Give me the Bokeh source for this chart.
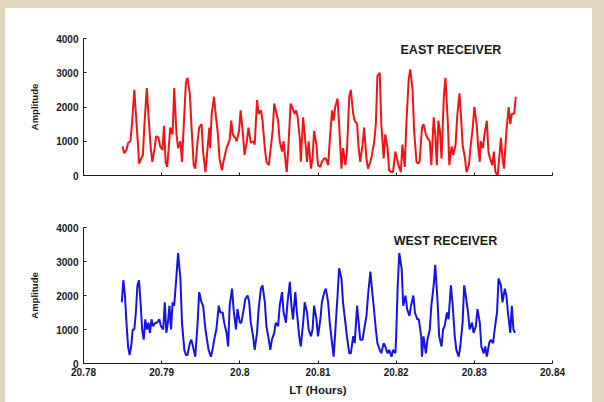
from bokeh.plotting import figure
from bokeh.layouts import column
from bokeh.models import Range1d, FixedTicker, Label, ColumnDataSource
from bokeh.embed import file_html
from bokeh.resources import INLINE

# ---------------- data ----------------
x_ticks = [20.78, 20.79, 20.8, 20.81, 20.82, 20.83, 20.84]
x_tick_labels = ["20.78", "20.79", "20.8", "20.81", "20.82", "20.83", "20.84"]
y_ticks = [0, 1000, 2000, 3000, 4000]

east_t = [
    20.7850, 20.7852, 20.7855, 20.7857, 20.7860, 20.7862, 20.7865, 20.7867, 20.7870, 20.7871,
    20.7874, 20.7876, 20.7878, 20.7881, 20.7883, 20.7886, 20.7888, 20.7891, 20.7893, 20.7896,
    20.7898, 20.7901, 20.7903, 20.7905, 20.7907, 20.7909, 20.7911, 20.7914, 20.7916, 20.7919,
    20.7921, 20.7924, 20.7926, 20.7929, 20.7931, 20.7933, 20.7936, 20.7938, 20.7941, 20.7943,
    20.7946, 20.7948, 20.7951, 20.7953, 20.7956, 20.7958, 20.7961, 20.7962, 20.7964, 20.7967,
    20.7969, 20.7972, 20.7974, 20.7977, 20.7979, 20.7983, 20.7987, 20.7989, 20.7991, 20.7994,
    20.7996, 20.7999, 20.8001, 20.8004, 20.8006, 20.8009, 20.8011, 20.8014, 20.8017, 20.8019,
    20.8022, 20.8024, 20.8027, 20.8029, 20.8032, 20.8034, 20.8037, 20.8039, 20.8042, 20.8044,
    20.8046, 20.8049, 20.8051, 20.8054, 20.8056, 20.8059, 20.8060, 20.8062, 20.8065, 20.8067,
    20.8070, 20.8072, 20.8074, 20.8077, 20.8078, 20.8081, 20.8083, 20.8086, 20.8088, 20.8091,
    20.8093, 20.8095, 20.8098, 20.8100, 20.8103, 20.8105, 20.8108, 20.8110, 20.8113, 20.8115,
    20.8118, 20.8120, 20.8122, 20.8125, 20.8127, 20.8130, 20.8132, 20.8135, 20.8137, 20.8140,
    20.8142, 20.8145, 20.8147, 20.8150, 20.8152, 20.8154, 20.8157, 20.8159, 20.8162, 20.8164,
    20.8167, 20.8169, 20.8172, 20.8174, 20.8176, 20.8179, 20.8181, 20.8184, 20.8186, 20.8189,
    20.8191, 20.8194, 20.8196, 20.8199, 20.8201, 20.8203, 20.8206, 20.8208, 20.8211, 20.8213,
    20.8216, 20.8218, 20.8221, 20.8223, 20.8226, 20.8228, 20.8230, 20.8233, 20.8235, 20.8238,
    20.8240, 20.8243, 20.8245, 20.8248, 20.8250, 20.8252, 20.8254, 20.8256, 20.8258, 20.8261,
    20.8263, 20.8266, 20.8268, 20.8271, 20.8273, 20.8276, 20.8278, 20.8281, 20.8283, 20.8285,
    20.8288, 20.8290, 20.8293, 20.8295, 20.8298, 20.8300, 20.8303, 20.8305, 20.8307, 20.8308,
    20.8311, 20.8313, 20.8316, 20.8318, 20.8320, 20.8323, 20.8325, 20.8327, 20.8330, 20.8331,
    20.8334, 20.8336, 20.8338, 20.8341, 20.8344, 20.8346, 20.8348, 20.8351, 20.8353,
]
east_amp = [
    850, 650, 750, 950, 1000, 1500, 2500, 1800, 800, 350,
    500, 600, 1500, 2550, 1800, 800, 400, 800, 1150, 1100,
    850, 750, 1450, 400, 250, 800, 1400, 1200, 2550, 1200,
    800, 1000, 400, 1800, 2700, 2850, 2400, 1500, 300, 200,
    1000, 1400, 1500, 700, 100, 600, 1400, 800, 1800, 2300,
    1800, 1200, 500, 150, 400, 800, 1050, 1600, 1200, 1100,
    1000, 1300, 1900, 1200, 600, 1000, 1400, 950, 1000, 900,
    2200, 1800, 1900, 1600, 800, 400, 300, 700, 1300, 2100,
    1900, 1600, 1000, 700, 1000, 300, 100, 800, 2100, 2000,
    1800, 1900, 1700, 1000, 400, 1700, 1200, 400, 1000, 200,
    500, 1300, 900, 300, 250, 400, 500, 500, 300, 1000,
    1900, 1600, 2000, 2250, 1500, 200, 800, 300, 700, 2300,
    2500, 1800, 1600, 1500, 800, 400, 900, 1400, 500, 200,
    400, 600, 1000, 1500, 2900, 3000, 1500, 500, 1200, 800,
    150, 100, 100, 700, 500, 300, 100, 900, 250, 1500,
    2800, 3100, 2500, 1300, 400, 350, 400, 1400, 1500, 1200,
    1100, 1000, 300, 1700, 1200, 300, 1600, 1300, 500, 2300,
    2850, 1600, 300, 850, 600, 900, 1700, 2400, 1700, 900,
    500, 100, 300, 800, 1400, 2000, 1500, 800, 400, 1000,
    800, 1200, 1600, 700, 500, 300, 700, 100, 0, 300,
    1100, 500, 200, 1300, 2000, 1500, 1800, 1800, 2300,
]

west_t = [
    20.7849, 20.7851, 20.7853, 20.7855, 20.7857, 20.7859, 20.7861, 20.7863, 20.7865, 20.7867,
    20.7869, 20.7871, 20.7873, 20.7875, 20.7877, 20.7879, 20.7881, 20.7883, 20.7885, 20.7887,
    20.7889, 20.7892, 20.7894, 20.7897, 20.7899, 20.7902, 20.7904, 20.7906, 20.7908, 20.7910,
    20.7912, 20.7914, 20.7916, 20.7919, 20.7921, 20.7924, 20.7926, 20.7929, 20.7931, 20.7933,
    20.7936, 20.7938, 20.7941, 20.7943, 20.7946, 20.7948, 20.7951, 20.7953, 20.7956, 20.7958,
    20.7960, 20.7963, 20.7965, 20.7968, 20.7970, 20.7973, 20.7975, 20.7978, 20.7980, 20.7983,
    20.7985, 20.7987, 20.7990, 20.7992, 20.7995, 20.7997, 20.8000, 20.8002, 20.8005, 20.8007,
    20.8010, 20.8012, 20.8014, 20.8017, 20.8019, 20.8022, 20.8024, 20.8027, 20.8029, 20.8032,
    20.8034, 20.8037, 20.8039, 20.8041, 20.8044, 20.8046, 20.8049, 20.8051, 20.8054, 20.8056,
    20.8059, 20.8061, 20.8064, 20.8066, 20.8068, 20.8071, 20.8073, 20.8076, 20.8078, 20.8081,
    20.8083, 20.8086, 20.8088, 20.8091, 20.8093, 20.8095, 20.8098, 20.8100, 20.8103, 20.8105,
    20.8108, 20.8110, 20.8113, 20.8115, 20.8118, 20.8120, 20.8122, 20.8125, 20.8127, 20.8130,
    20.8132, 20.8135, 20.8137, 20.8140, 20.8142, 20.8145, 20.8147, 20.8150, 20.8152, 20.8154,
    20.8157, 20.8159, 20.8162, 20.8164, 20.8167, 20.8169, 20.8172, 20.8174, 20.8176, 20.8179,
    20.8181, 20.8184, 20.8186, 20.8189, 20.8191, 20.8194, 20.8196, 20.8199, 20.8200, 20.8202,
    20.8204, 20.8207, 20.8209, 20.8212, 20.8214, 20.8217, 20.8219, 20.8222, 20.8224, 20.8227,
    20.8229, 20.8232, 20.8233, 20.8235, 20.8238, 20.8240, 20.8243, 20.8245, 20.8248, 20.8250,
    20.8253, 20.8255, 20.8258, 20.8260, 20.8262, 20.8265, 20.8267, 20.8270, 20.8272, 20.8275,
    20.8277, 20.8280, 20.8282, 20.8285, 20.8287, 20.8289, 20.8292, 20.8294, 20.8297, 20.8299,
    20.8302, 20.8304, 20.8307, 20.8309, 20.8312, 20.8314, 20.8316, 20.8319, 20.8321, 20.8324,
    20.8326, 20.8329, 20.8331, 20.8334, 20.8336, 20.8339, 20.8341, 20.8343, 20.8346, 20.8348,
    20.8350, 20.8352,
]
west_amp = [
    1800, 2450, 2000, 1200, 500, 250, 500, 1000, 1000, 1500,
    2300, 2450, 1800, 1000, 700, 1300, 1000, 1200, 900, 1300,
    1100, 1200, 1200, 1300, 1100, 1000, 1800, 900, 1200, 1700,
    1000, 1800, 1700, 2600, 3250, 2500, 1200, 400, 250, 250,
    600, 700, 400, 200, 1200, 2100, 1800, 1700, 1000, 700,
    400, 200, 400, 800, 1000, 1700, 1500, 1500, 1200, 900,
    500, 1700, 2200, 1600, 1000, 1600, 1200, 1200, 1600, 1900,
    2000, 1800, 1200, 800, 400, 900, 1600, 2200, 2300, 1800,
    1100, 700, 400, 700, 900, 1200, 1100, 1700, 2100, 1500,
    1200, 1800, 2400, 1700, 1300, 2100, 1500, 800, 500, 1200,
    1800, 1500, 1000, 800, 1000, 1700, 1300, 800, 1300, 1800,
    2100, 2200, 1800, 1200, 600, 200, 900, 2000, 2800, 2500,
    1800, 1200, 800, 300, 300, 800, 600, 1700, 1200, 700,
    700, 1000, 1400, 2000, 2700, 2200, 1500, 1000, 600, 400,
    300, 600, 500, 300, 400, 200, 400, 300, 800, 2300,
    3250, 2800, 1700, 2000, 1600, 1400, 1700, 2000, 1500, 1300,
    1300, 800, 200, 800, 300, 700, 1000, 1700, 2300, 2900,
    1800, 800, 500, 1000, 1100, 1500, 1300, 2300, 1800, 800,
    400, 200, 500, 1200, 2300, 2000, 1500, 1000, 1200, 900,
    1100, 1600, 1200, 500, 300, 500, 200, 600, 700, 600,
    1000, 1500, 2500, 2300, 1800, 2200, 2000, 1500, 900, 1700,
    1000, 900,
]

# ---------------- style ----------------
BG = "#e3d6bf"
FONT = "Liberation Sans"
INK = "#1a1a1a"


def make_panel(height, top_border, bottom_border, show_x_labels):
    p = figure(width=587, height=height, output_backend="svg", toolbar_location=None,
               x_range=Range1d(20.78, 20.84), y_range=Range1d(0, 4000),
               min_border_left=78, min_border_right=40,
               min_border_top=top_border, min_border_bottom=bottom_border)
    p.background_fill_color = "white"
    p.border_fill_color = "white"
    p.outline_line_color = None
    p.grid.visible = False

    for ax in (p.xaxis[0], p.yaxis[0]):
        ax.axis_line_color = INK
        ax.axis_line_width = 1
        ax.major_tick_line_color = INK
        ax.major_tick_in = 3
        ax.major_tick_out = 0
        ax.minor_tick_line_color = None
        ax.major_label_text_font = FONT
        ax.major_label_text_font_size = "10px"
        ax.major_label_text_font_style = "bold"
        ax.major_label_text_color = INK
        ax.axis_label_text_font = FONT
        ax.axis_label_text_font_style = "bold"
        ax.axis_label_text_color = INK

    p.yaxis.ticker = FixedTicker(ticks=y_ticks)
    p.yaxis.major_label_standoff = 5
    p.yaxis.axis_label = "Amplitude"
    p.yaxis.axis_label_text_font_size = "9.5px"
    p.yaxis.axis_label_standoff = 13

    p.xaxis.ticker = FixedTicker(ticks=x_ticks)
    p.xaxis.major_label_overrides = {t: s for t, s in zip(x_ticks, x_tick_labels)}
    if show_x_labels:
        p.xaxis.major_label_standoff = 4
        p.xaxis.axis_label = "LT (Hours)"
        p.xaxis.axis_label_text_font_size = "11.5px"
        p.xaxis.axis_label_standoff = 5
    else:
        p.xaxis.major_label_text_color = None
    return p


top = make_panel(188, 30, 21, False)
top.line(x="t", y="a", source=ColumnDataSource(dict(t=east_t, a=east_amp)),
         line_color="#f01414", line_width=2)
top.add_layout(Label(x=20.827, y=3650, text="EAST RECEIVER", text_font=FONT,
                     text_font_size="12.5px", text_font_style="bold", text_color=INK,
                     text_align="center", text_baseline="middle"))

bottom = make_panel(206, 31, 39, True)
bottom.line(x="t", y="a", source=ColumnDataSource(dict(t=west_t, a=west_amp)),
            line_color="#1414e6", line_width=2)
bottom.add_layout(Label(x=20.8263, y=3590, text="WEST RECEIVER", text_font=FONT,
                        text_font_size="12.5px", text_font_style="bold", text_color=INK,
                        text_align="center", text_baseline="middle"))

panel = column(top, bottom, spacing=0, styles={"background-color": "white"})
panel.margin = (8, 12, 0, 5)
layout = column(panel, spacing=0, styles={"background-color": BG})

open("out.html", "w").write(file_html(layout, INLINE))
